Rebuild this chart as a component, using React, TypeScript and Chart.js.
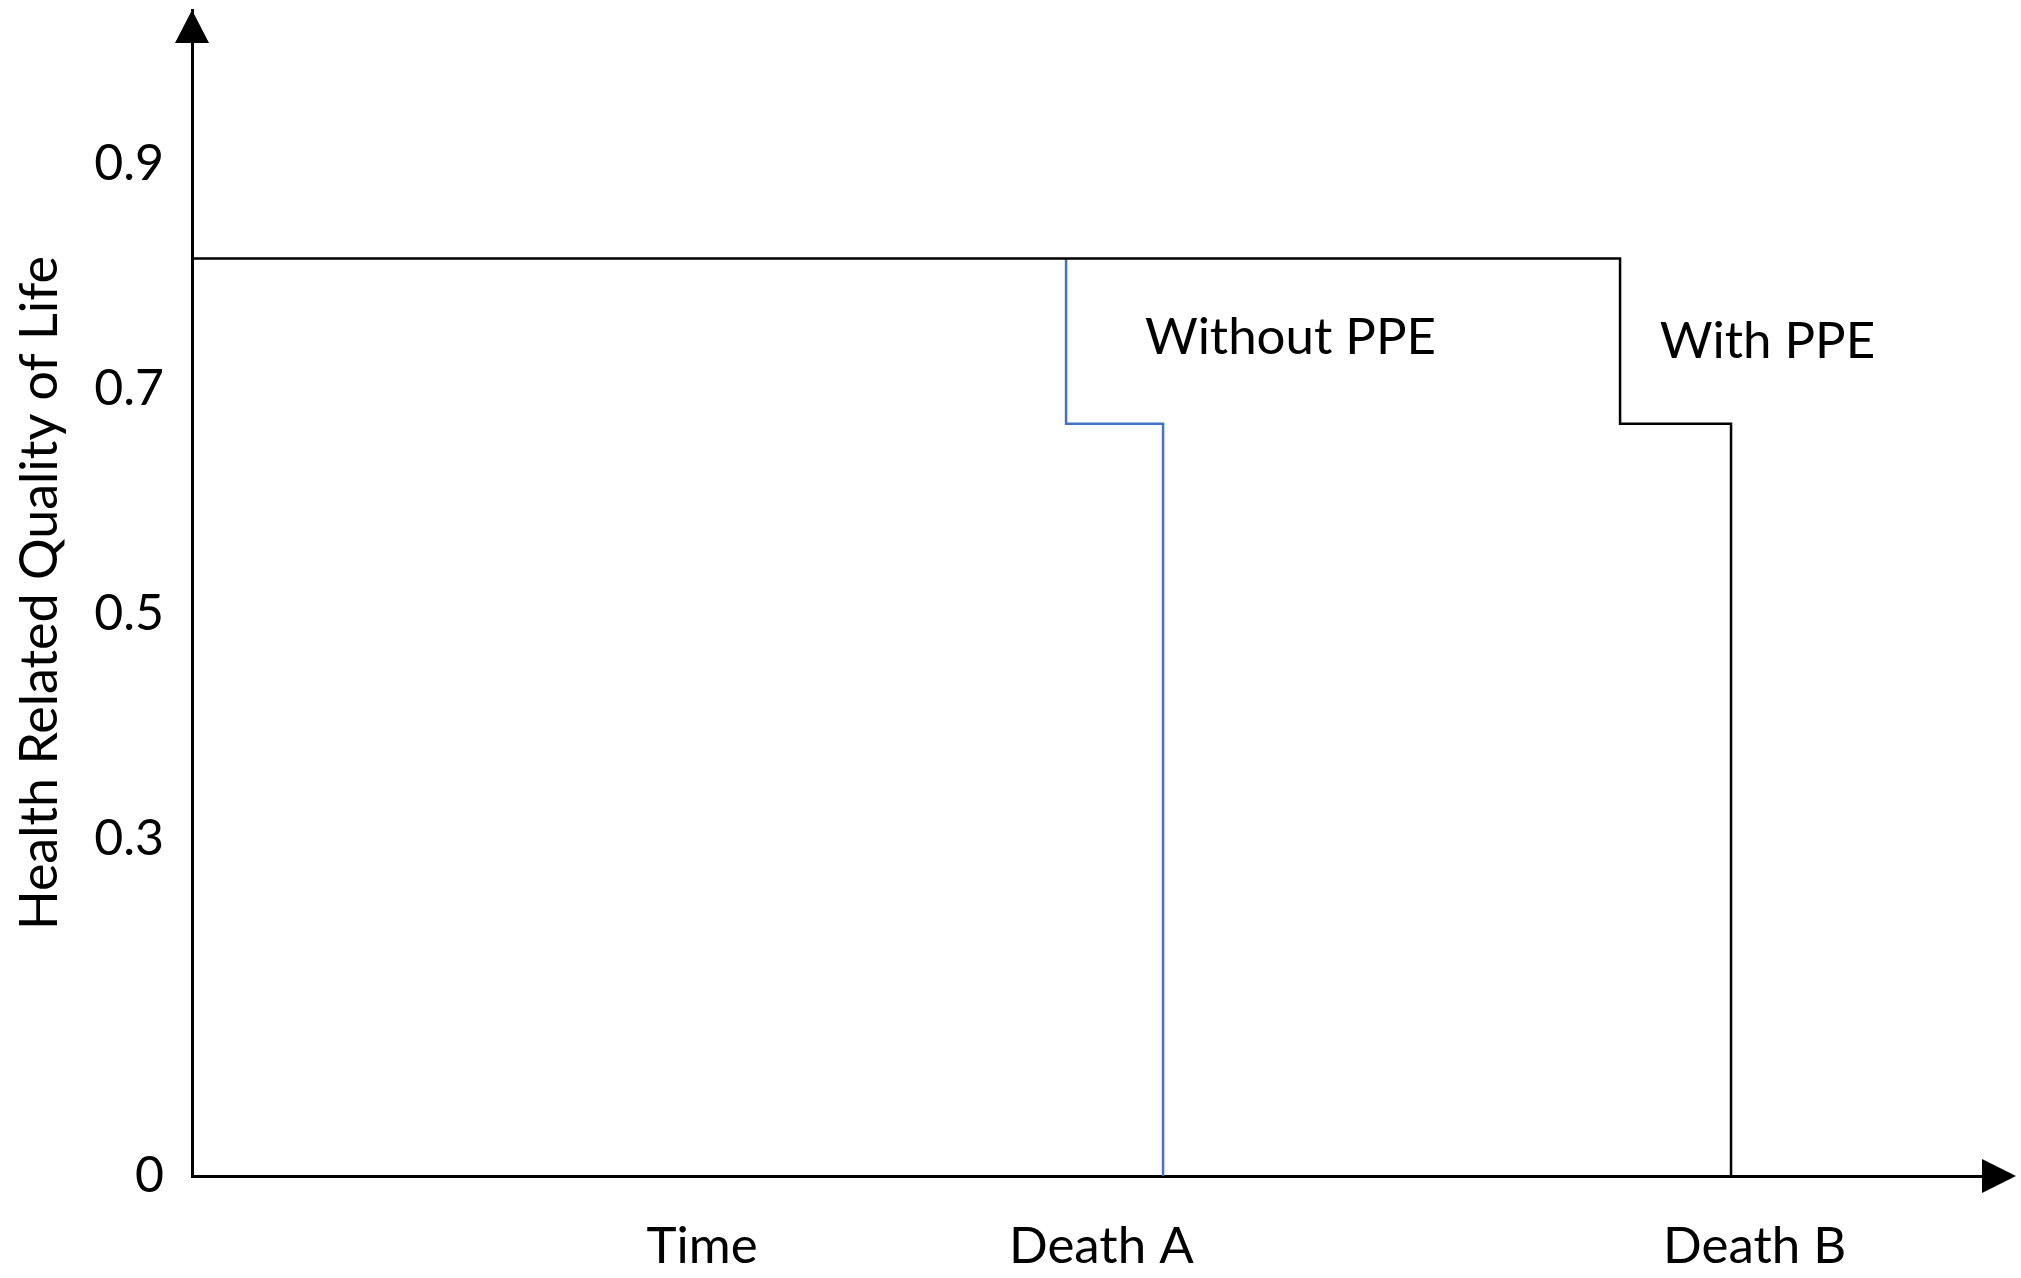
import React, { useEffect, useRef } from 'react';
import { Chart, registerables } from 'chart.js';

Chart.register(...registerables);

// ---- data ----
const yTickValues = [0, 0.3, 0.5, 0.7, 0.9];
const yTickLabels = ['0', '0.3', '0.5', '0.7', '0.9'];
const xTickValues = [28.5, 50.8, 87.3];
const xTickLabels = ['Time', 'Death A', 'Death B'];

const withoutPpeX = [48.83, 48.83, 54.25, 54.25];
const withoutPpeY = [0.816, 0.669, 0.669, 0];
const withPpeX = [0, 79.78, 79.78, 85.98, 85.98];
const withPpeY = [0.816, 0.816, 0.669, 0.669, 0];

const noteTexts = ['Without PPE', 'With PPE'];
const noteX = [53.24, 82.0];
const noteY = [0.7456, 0.742];

const yTitle = 'Health Related Quality of Life';

const FONT = 'Lato, "Open Sans", sans-serif';

const arrowsPlugin = {
  id: 'arrows',
  afterDraw(chart: any) {
    const { ctx, chartArea, scales } = chart;
    const left = chartArea.left;
    const top = chartArea.top;
    const right = chartArea.right;
    const bottom = scales.y.getPixelForValue(0);
    ctx.save();
    ctx.fillStyle = '#000';
    // y arrow
    ctx.beginPath();
    ctx.moveTo(left, top);
    ctx.lineTo(left - 17, top + 33);
    ctx.lineTo(left + 17, top + 33);
    ctx.closePath();
    ctx.fill();
    // x arrow
    ctx.beginPath();
    ctx.moveTo(right + 34, bottom);
    ctx.lineTo(right, bottom - 17);
    ctx.lineTo(right, bottom + 17);
    ctx.closePath();
    ctx.fill();
    ctx.restore();
  },
};

const notesPlugin = {
  id: 'notes',
  afterDatasetsDraw(chart: any) {
    const { ctx, scales } = chart;
    ctx.save();
    ctx.fillStyle = '#000';
    ctx.font = `51px ${FONT}`;
    ctx.textAlign = 'left';
    ctx.textBaseline = 'middle';
    noteTexts.forEach((t, i) => {
      ctx.fillText(t, scales.x.getPixelForValue(noteX[i]), scales.y.getPixelForValue(noteY[i]));
    });
    ctx.restore();
  },
};

export default function App() {
  const ref = useRef<HTMLCanvasElement | null>(null);

  useEffect(() => {
    if (!ref.current) return;
    const chart = new Chart(ref.current, {
      type: 'scatter',
      data: {
        datasets: [
          {
            label: 'With PPE',
            data: withPpeX.map((x, i) => ({ x, y: withPpeY[i] })),
            showLine: true,
            borderColor: '#000000',
            borderWidth: 2.5,
            pointRadius: 0,
            fill: false,
          },
          {
            label: 'Without PPE',
            data: withoutPpeX.map((x, i) => ({ x, y: withoutPpeY[i] })),
            showLine: true,
            borderColor: '#4472C4',
            borderWidth: 2.5,
            pointRadius: 0,
            fill: false,
          },
        ],
      },
      options: {
        responsive: false,
        animation: false,
        clip: false as any,
        layout: { padding: { top: 10, right: 39, left: 0, bottom: 0 } },
        plugins: {
          legend: { display: false },
          tooltip: { enabled: false },
        },
        scales: {
          x: {
            type: 'linear',
            min: 0,
            max: 100,
            grid: { display: false, drawTicks: false },
            border: { display: true, color: '#000', width: 3 },
            afterFit: (s: any) => {
              s.height = 102;
              s.paddingLeft = 0;
              s.paddingRight = 0;
            },
            afterBuildTicks: (s: any) => {
              s.ticks = xTickValues.map((v) => ({ value: v }));
            },
            ticks: {
              autoSkip: false,
              maxRotation: 0,
              padding: 40,
              color: '#000',
              font: { family: FONT, size: 51 },
              callback: (_v: any, i: number) => xTickLabels[i],
            },
          },
          y: {
            type: 'linear',
            min: 0,
            max: 1.037,
            grid: { display: false, drawTicks: false },
            border: { display: true, color: '#000', width: 3 },
            afterFit: (s: any) => {
              s.width = 192;
              s.paddingTop = 0;
              s.paddingBottom = 0;
            },
            afterBuildTicks: (s: any) => {
              s.ticks = yTickValues.map((v) => ({ value: v }));
            },
            ticks: {
              autoSkip: false,
              padding: 28,
              color: '#000',
              font: { family: FONT, size: 50 },
              callback: (_v: any, i: number) => yTickLabels[i],
            },
            title: {
              display: true,
              text: yTitle,
              color: '#000',
              font: { family: FONT, size: 52 },
              padding: { top: 9, bottom: 0 },
            },
          },
        },
      },
      plugins: [arrowsPlugin, notesPlugin],
    });
    return () => chart.destroy();
  }, []);

  return (
    <div style={{ position: 'absolute', left: 0, top: 0, width: 2021, height: 1278, background: '#fff' }}>
      <canvas ref={ref} width={2021} height={1278} />
    </div>
  );
}
